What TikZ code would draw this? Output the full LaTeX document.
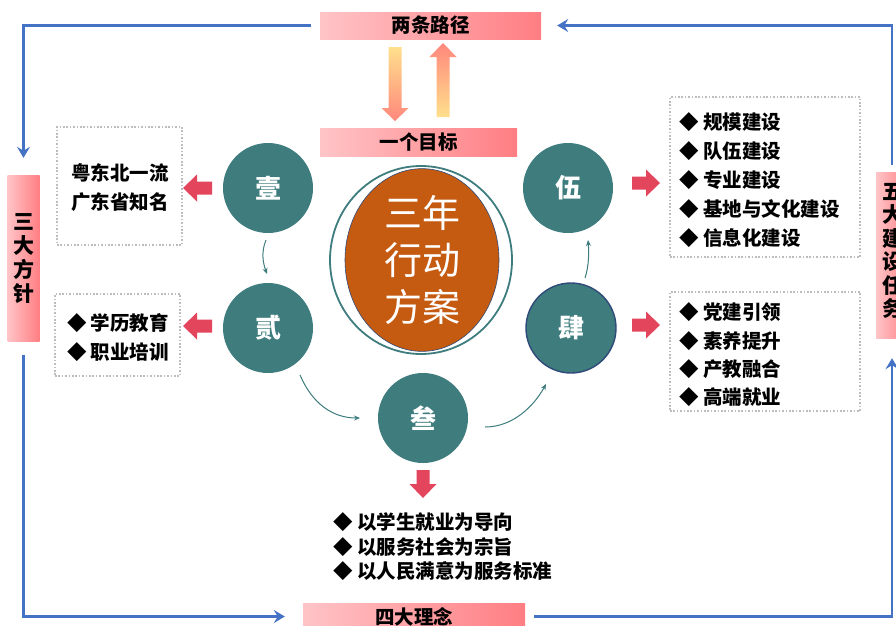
\documentclass[tikz,border=0pt]{standalone}
\usepackage{fontspec}
\newfontfamily\cjk{Noto Sans CJK SC}
\usetikzlibrary{arrows.meta,shapes.geometric}
\definecolor{teal1}{HTML}{3E7C7E}
\definecolor{orange1}{HTML}{C55A11}
\definecolor{pinkL}{HTML}{FFC4C7}
\definecolor{pinkR}{HTML}{FF7E83}
\definecolor{redA}{HTML}{E2455C}
\definecolor{blueL}{HTML}{4472C4}
\definecolor{yel}{HTML}{FFE08C}
\definecolor{sal}{HTML}{FF877C}
\definecolor{dotgray}{HTML}{BDBDBD}
\definecolor{navy1}{HTML}{2F4A78}
\tikzset{
  pinkbox/.style={left color=pinkL, right color=pinkR, inner sep=0pt,
    font=\cjk\bfseries\fontsize{19.5}{22}\selectfont},
  vbox/.style={left color=pinkL, right color=pinkR, inner sep=0pt, minimum width=32pt, minimum height=166pt},
  vtext/.style={align=center, inner sep=0pt, font=\cjk\bfseries\fontsize{21}{24}\selectfont},
  tealc/.style={circle, fill=teal1, minimum size=90pt, inner sep=0pt, text=white,
    font=\cjk\bfseries\fontsize{26}{28}\selectfont},
  dotbox/.style={draw=dotgray, line width=1.6pt, dash pattern=on 1.6pt off 1.8pt, inner sep=0pt},
  listtext/.style={align=left, inner sep=0pt, font=\cjk\bfseries\fontsize{19.5}{29}\selectfont},
  flow/.style={teal1, line width=1pt, -{Stealth[length=6pt,width=5pt]}},
  bline/.style={blueL, line width=2.3pt, -{Stealth[length=11pt,width=13pt,inset=4pt]}},
  redarr/.style={fill=redA, draw=none}
}
\begin{document}
\begin{tikzpicture}[x=1pt,y=-1pt]
\clip (0,0) rectangle (896,625);
\fill[white] (0,0) rectangle (896,625);

% pink label boxes
\node[pinkbox, minimum width=221pt, minimum height=27pt] (lu) at (430.5,25.5) {两条路径};
\node[pinkbox, minimum width=197pt, minimum height=28pt] (mb) at (418.5,142) {一个目标};
\node[pinkbox, minimum width=222pt, minimum height=27pt] (ln) at (414,616.5) {四大理念};
\node[vbox] (fz) at (23.5,258) {};
\node[vtext] (fzt) at (24,259) {三\\大\\方\\针};
\node[vbox, minimum width=34pt] (wd) at (893,255) {};
\node[vtext, font=\cjk\bfseries\fontsize{21}{23.5}\selectfont] (wdt) at (893,251) {五\\大\\建\\设\\任\\务};

% gradient arrows between 两条路径 and 一个目标
\shade[top color=yel, bottom color=sal]
  (388.5,47) -- (401.5,47) -- (401.5,108) -- (408.5,108) -- (395,121)
  -- (381.5,108) -- (388.5,108) -- cycle;
\shade[top color=sal, bottom color=yel]
  (443,43) -- (456.5,57) -- (449.5,57) -- (449.5,117) -- (436.5,117)
  -- (436.5,57) -- (429.5,57) -- cycle;

% centre
\node[ellipse, draw=teal1, line width=1.8pt, fill=white, minimum width=182pt, minimum height=188pt, inner sep=0pt] (ring) at (421,260) {};
\node[ellipse, fill=orange1, draw=navy1, line width=0.6pt, minimum width=154pt, minimum height=158pt, inner sep=0pt,
  text=white, align=center, font=\cjk\fontsize{38}{47}\selectfont] (core) at (422,260) {三年\\行动\\方案};

% teal circles
\node[tealc] (c1) at (268,188) {壹};
\node[tealc] (c2) at (268,328) {贰};
\node[tealc] (c3) at (423,418) {叁};
\node[tealc, draw=navy1, line width=1.4pt] (c4) at (571,328) {肆};
\node[tealc] (c5) at (568,188) {伍};

% small flow arrows
\draw[flow] ([shift={(-2,52)}]c1.center) .. controls +(-5,12) and +(-4,-11) .. ([shift={(-1,-54)}]c2.center);
\draw[flow] ([shift={(32,47)}]c2.center) .. controls +(12,28) and +(-28,0) .. ([shift={(-63,0)}]c3.center);
\draw[flow] ([shift={(62,9)}]c3.center) .. controls +(28,0) and +(-12,22) .. ([shift={(-25,56)}]c4.center);
\draw[flow] ([shift={(14,-50)}]c4.center) .. controls +(4,-12) and +(1,12) .. ([shift={(20,52)}]c5.center);

% red block arrows
\fill[redarr] (183,188) -- (197,174.5) -- (197,181.5) -- (212,181.5) -- (212,194.5) -- (197,194.5) -- (197,201.5) -- cycle;
\fill[redarr] (183,326) -- (197,312.5) -- (197,319.5) -- (212,319.5) -- (212,332.5) -- (197,332.5) -- (197,339.5) -- cycle;
\fill[redarr] (660,183) -- (646,169.5) -- (646,176.5) -- (632,176.5) -- (632,189.5) -- (646,189.5) -- (646,196.5) -- cycle;
\fill[redarr] (660,325) -- (646,311.5) -- (646,318.5) -- (632,318.5) -- (632,331.5) -- (646,331.5) -- (646,338.5) -- cycle;
\fill[redarr] (423,498) -- (409.5,484) -- (416.5,484) -- (416.5,470) -- (429.5,470) -- (429.5,484) -- (436.5,484) -- cycle;

% dotted boxes and their texts
\node[dotbox, minimum width=125pt, minimum height=118pt] (d1) at (119.5,186) {};
\node[listtext, align=center] (t1) at (120,188) {粤东北一流\\广东省知名};
\node[dotbox, minimum width=125pt, minimum height=82pt] (d2) at (117.5,335) {};
\node[listtext] (t2) at (118,338) {◆ 学历教育\\◆ 职业培训};
\node[dotbox, minimum width=190pt, minimum height=160pt] (d3) at (765,177) {};
\node[listtext, anchor=west, font=\cjk\bfseries\fontsize{19.5}{28.8}\selectfont] (t3) at (679,180) {◆ 规模建设\\◆ 队伍建设\\◆ 专业建设\\◆ 基地与文化建设\\◆ 信息化建设};
\node[dotbox, minimum width=190pt, minimum height=119pt] (d4) at (765,351.5) {};
\node[listtext, anchor=west, font=\cjk\bfseries\fontsize{19.5}{28.3}\selectfont] (t4) at (679,355) {◆ 党建引领\\◆ 素养提升\\◆ 产教融合\\◆ 高端就业};
\node[listtext, anchor=west, font=\cjk\bfseries\fontsize{19.5}{24.5}\selectfont] (t5) at (333,547) {◆ 以学生就业为导向\\◆ 以服务社会为宗旨\\◆ 以人民满意为服务标准};

% blue cycle connectors
\draw[bline] ([xshift=-9pt]lu.west) -| ([yshift=17pt]fz.north);
\draw[bline] ([yshift=-14pt]fz.south) |- ([xshift=-18pt]ln.west);
\draw[bline] ([xshift=9pt]ln.east) -| ([shift={(-1,20)}]wd.south);
\draw[bline] ([shift={(-1,-7)}]wd.north) |- ([xshift=16pt]lu.east);
\end{tikzpicture}
\end{document}
